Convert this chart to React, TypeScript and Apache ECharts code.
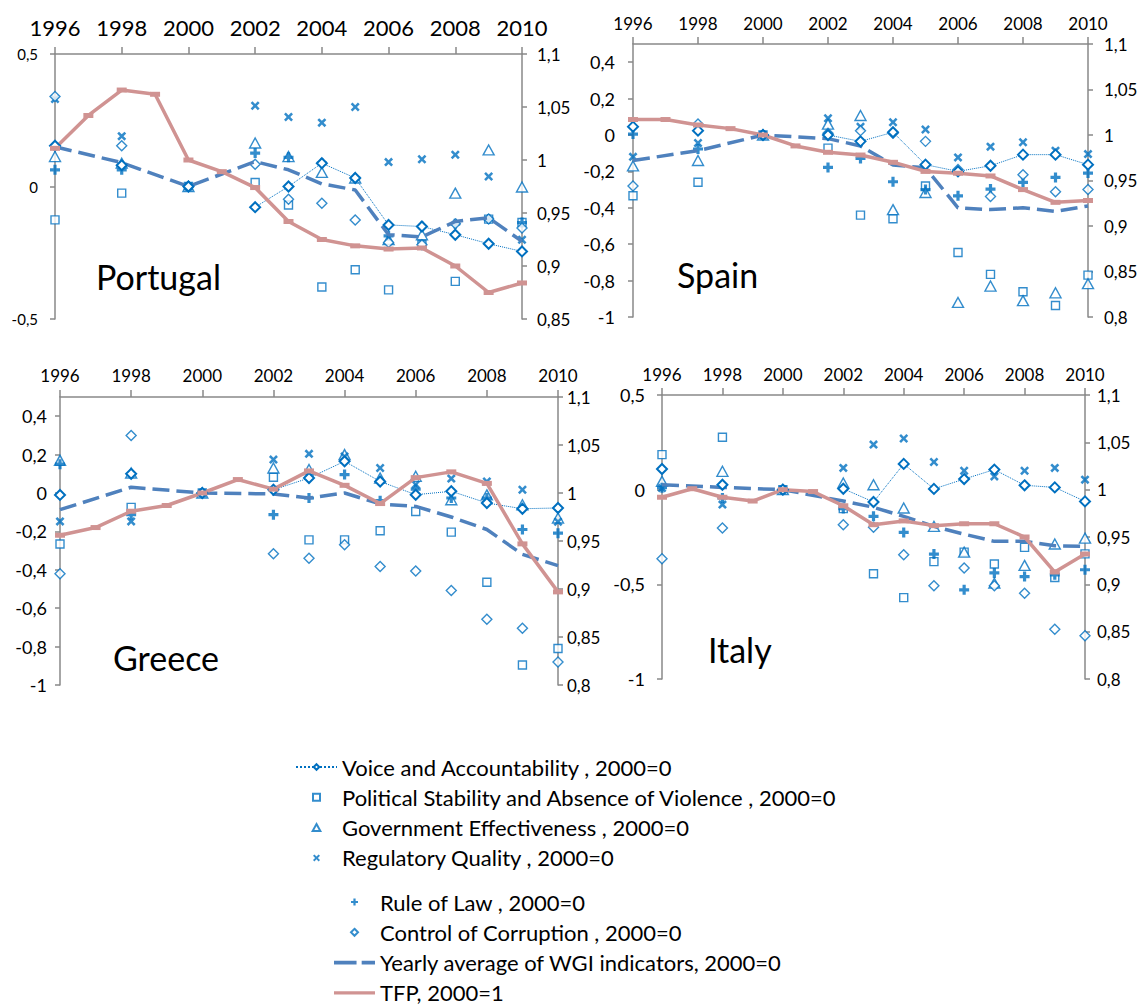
import React, { useEffect, useRef } from 'react';
import * as echarts from 'echarts';

// ---------- DATA ----------
const WGI_YEARS = [1996, 1998, 2000, 2002, 2003, 2004, 2005, 2006, 2007, 2008, 2009, 2010];
const TFP_YEARS = [1996, 1997, 1998, 1999, 2000, 2001, 2002, 2003, 2004, 2005, 2006, 2007, 2008, 2009, 2010];
const X_MIN = 1996;
const X_MAX = 2010;
const X_STEP = 2;

// Portugal
const PT_VA = [0.154, 0.08, 0, -0.078, 0.0, 0.088, 0.032, -0.145, -0.151, -0.182, -0.216, -0.245];
const PT_PS = [-0.126, -0.025, 0, 0.015, -0.07, -0.379, -0.314, -0.39, -0.22, -0.358, -0.123, -0.136];
const PT_GE = [0.113, 0.088, 0, 0.164, 0.113, 0.053, 0.032, -0.2, -0.182, -0.025, 0.138, -0.002];
const PT_RQ = [0.33, 0.19, 0, 0.305, 0.262, 0.241, 0.3, 0.092, 0.103, 0.12, 0.038, -0.201];
const PT_RL = [0.063, 0.063, 0, 0.126, 0.11, 0.088, 0.032, -0.186, -0.151, -0.141, -0.123, -0.136];
const PT_CC = [0.34, 0.154, 0, 0.084, -0.048, -0.063, -0.126, -0.211, -0.22, -0.141, -0.123, -0.157];
const PT_AVG = [0.15, 0.09, 0, 0.094, 0.063, 0.01, -0.013, -0.182, -0.19, -0.132, -0.118, -0.207];
const PT_TFP = [1.011, 1.042, 1.066, 1.062, 1.0, 0.989, 0.974, 0.942, 0.925, 0.919, 0.916, 0.917, 0.9, 0.875, 0.884];

// Spain
const ES_VA = [0.046, 0.024, 0, 0.0, -0.035, 0.015, -0.163, -0.2, -0.169, -0.108, -0.108, -0.163];
const ES_PS = [-0.334, -0.26, 0, -0.072, -0.44, -0.46, -0.28, -0.646, -0.766, -0.861, -0.937, -0.77];
const ES_GE = [-0.17, -0.14, 0, 0.06, 0.107, -0.41, -0.316, -0.92, -0.83, -0.91, -0.867, -0.817];
const ES_RQ = [-0.12, -0.044, 0, 0.092, 0.045, 0.07, 0.03, -0.123, -0.064, -0.04, -0.086, -0.105];
const ES_RL = [0.005, -0.077, 0, -0.178, -0.129, -0.257, -0.3, -0.334, -0.297, -0.26, -0.233, -0.209];
const ES_CC = [-0.28, 0.06, 0, 0.01, 0.024, 0.01, -0.035, -0.19, -0.338, -0.219, -0.312, -0.3];
const ES_AVG = [-0.14, -0.086, 0, -0.02, -0.06, -0.165, -0.18, -0.4, -0.41, -0.4, -0.42, -0.39];
const ES_TFP = [1.017, 1.017, 1.011, 1.007, 1.0, 0.988, 0.981, 0.978, 0.97, 0.96, 0.958, 0.955, 0.94, 0.926, 0.928];

// Greece
const GR_VA = [-0.01, 0.1, 0, 0.017, 0.078, 0.165, 0.06, -0.009, 0.009, -0.052, -0.082, -0.078];
const GR_PS = [-0.266, -0.075, 0, 0.082, -0.244, -0.244, -0.197, -0.096, -0.204, -0.465, -0.896, -0.81];
const GR_GE = [0.17, 0.104, 0, 0.13, 0.122, 0.2, 0.078, 0.087, -0.035, -0.01, -0.061, -0.13];
const GR_RQ = [-0.148, -0.148, 0, 0.174, 0.204, 0.19, 0.13, 0.044, 0.075, 0.06, 0.017, -0.15];
const GR_RL = [0.15, -0.113, 0, -0.113, -0.026, 0.096, -0.04, 0.02, -0.026, -0.026, -0.19, -0.209];
const GR_CC = [-0.42, 0.3, 0, -0.317, -0.34, -0.27, -0.383, -0.406, -0.508, -0.658, -0.705, -0.88];
const GR_AVG = [-0.087, 0.03, 0, -0.005, -0.026, 0.0, -0.057, -0.07, -0.125, -0.19, -0.32, -0.378];
const GR_TFP = [0.956, 0.964, 0.981, 0.987, 1.0, 1.014, 1.004, 1.023, 1.008, 0.989, 1.016, 1.022, 1.01, 0.947, 0.897];

// Italy
const IT_VA = [0.109, 0.026, 0, 0.005, -0.065, 0.136, 0.004, 0.056, 0.106, 0.023, 0.012, -0.062];
const IT_PS = [0.185, 0.277, 0, -0.1, -0.444, -0.57, -0.38, -0.33, -0.393, -0.305, -0.464, -0.339];
const IT_GE = [0.044, 0.097, 0, 0.035, 0.026, -0.097, -0.194, -0.33, -0.494, -0.4, -0.287, -0.256];
const IT_RQ = [0.009, -0.079, 0, 0.115, 0.238, 0.27, 0.146, 0.1, 0.07, 0.1, 0.115, 0.053];
const IT_RL = [0.01, -0.044, 0, -0.1, -0.141, -0.226, -0.34, -0.529, -0.44, -0.459, -0.45, -0.423];
const IT_CC = [-0.365, -0.203, 0, -0.185, -0.198, -0.344, -0.508, -0.414, -0.508, -0.547, -0.737, -0.771];
const IT_AVG = [0.026, 0.012, 0, -0.06, -0.093, -0.141, -0.194, -0.235, -0.273, -0.273, -0.296, -0.3];
const IT_TFP = [0.992, 1.001, 0.992, 0.988, 1.0, 0.998, 0.983, 0.963, 0.967, 0.962, 0.964, 0.964, 0.95, 0.913, 0.932];

const NAMES = {
  va: 'Voice and Accountability , 2000=0',
  ps: 'Political Stability and Absence of Violence , 2000=0',
  ge: 'Government Effectiveness , 2000=0',
  rq: 'Regulatory Quality , 2000=0',
  rl: 'Rule of Law , 2000=0',
  cc: 'Control of Corruption , 2000=0',
  avg: 'Yearly average of WGI indicators, 2000=0',
  tfp: 'TFP, 2000=1',
};

// ---------- STYLE / LAYOUT ----------
const FONT = 'Lato, "DejaVu Sans", sans-serif';
const BLUE = '#0070C0';
const AVG_COLOR = '#4F81BD';
const TFP_COLOR = '#D09392';
const AXIS_COLOR = '#898989';

const X_PATH = 'path://M0,2 L2,0 L5,3 L8,0 L10,2 L7,5 L10,8 L8,10 L5,7 L2,10 L0,8 L3,5 Z';
const PLUS_PATH = 'path://M3.4,0 H6.6 V3.4 H10 V6.6 H6.6 V10 H3.4 V6.6 H0 V3.4 H3.4 Z';
const SQUARE_PATH = 'path://M0,0 H8 V8 H0 Z';
const TRI_PATH = 'path://M5.5,0 L11,10 L0,10 Z';
const DIAM_PATH = 'path://M5,0 L10,5 L5,10 L0,5 Z';
const AVG_ICON = 'path://M0,0 H22 V3.5 H0 Z M27,0 H40 V3.5 H27 Z';
const TFP_ICON = 'path://M0,0 H43 V3.5 H0 Z';

const PANELS = [
  {
    name: 'Portugal', label: { x: 96, y: 276 },
    d: { va: PT_VA, ps: PT_PS, ge: PT_GE, rq: PT_RQ, rl: PT_RL, cc: PT_CC, avg: PT_AVG, tfp: PT_TFP },
    grid: { left: 55, top: 54, width: 467, height: 265 },
    yMin: -0.5, yMax: 0.5, yInt: 0.5, rMin: 0.85,
    xFont: 22, xMargin: 16, lFont: 15, lMargin: 17, rFont: 17, rMargin: 15,
  },
  {
    name: 'Spain', label: { x: 677, y: 274 },
    d: { va: ES_VA, ps: ES_PS, ge: ES_GE, rq: ES_RQ, rl: ES_RL, cc: ES_CC, avg: ES_AVG, tfp: ES_TFP },
    grid: { left: 633, top: 44, width: 455, height: 273 },
    yMin: -1, yMax: 0.5, yInt: 0.2, rMin: 0.8,
    xFont: 17, xMargin: 12, lFont: 18, lMargin: 18, rFont: 17, rMargin: 16,
  },
  {
    name: 'Greece', label: { x: 113, y: 657 },
    d: { va: GR_VA, ps: GR_PS, ge: GR_GE, rq: GR_RQ, rl: GR_RL, cc: GR_CC, avg: GR_AVG, tfp: GR_TFP },
    grid: { left: 60, top: 397, width: 498, height: 288 },
    yMin: -1, yMax: 0.5, yInt: 0.2, rMin: 0.8,
    xFont: 17, xMargin: 13, lFont: 18, lMargin: 13, rFont: 17, rMargin: 9,
  },
  {
    name: 'Italy', label: { x: 708, y: 649 },
    d: { va: IT_VA, ps: IT_PS, ge: IT_GE, rq: IT_RQ, rl: IT_RL, cc: IT_CC, avg: IT_AVG, tfp: IT_TFP },
    grid: { left: 662, top: 395, width: 423, height: 284 },
    yMin: -1, yMax: 0.5, yInt: 0.5, rMin: 0.8,
    xFont: 17, xMargin: 12, lFont: 18, lMargin: 17, rFont: 17, rMargin: 12,
  },
];

const fmt = (v: number) => String(Math.round(v * 100) / 100).replace('.', ',');

const pairs = (xs: number[], ys: number[]) => xs.map((x, i) => [x, ys[i]]);
const withBreaks = (xs: number[], ys: number[]) => {
  const out: any[] = [];
  xs.forEach((x, i) => {
    if (i > 0 && x - xs[i - 1] > 1) out.push([(x + xs[i - 1]) / 2, '-']);
    out.push([x, ys[i]]);
  });
  return out;
};

function buildOption() {
  const axisLine = { show: true, onZero: false, lineStyle: { color: AXIS_COLOR, width: 1.5 } };
  const axisTick = { show: true, length: 5, lineStyle: { color: AXIS_COLOR, width: 1.5 } };
  const grid: any[] = [];
  const xAxis: any[] = [];
  const yAxis: any[] = [];
  const series: any[] = [];
  const graphic: any[] = [];

  PANELS.forEach((p, i) => {
    grid.push({ ...p.grid, containLabel: false });
    xAxis.push({
      type: 'value', gridIndex: i, position: 'top', min: X_MIN, max: X_MAX, interval: X_STEP,
      axisLine, axisTick: { ...axisTick, length: 7 }, splitLine: { show: false },
      axisLabel: {
        formatter: (v: number) => String(v), fontSize: p.xFont, margin: p.xMargin, color: '#000', fontFamily: FONT,
        align: 'center', alignMinLabel: 'center', alignMaxLabel: 'center', hideOverlap: false,
      },
    });
    const exact = Math.abs(Math.round((p.yMax - p.yMin) / p.yInt) - (p.yMax - p.yMin) / p.yInt) < 1e-6;
    yAxis.push({
      type: 'value', gridIndex: i, position: 'left', min: p.yMin, max: p.yMax, interval: p.yInt,
      axisLine, axisTick, splitLine: { show: false },
      axisLabel: { formatter: fmt, fontSize: p.lFont, margin: p.lMargin, color: '#000', fontFamily: FONT, showMaxLabel: exact },
    });
    yAxis.push({
      type: 'value', gridIndex: i, position: 'right', min: p.rMin, max: 1.1, interval: 0.05,
      axisLine, axisTick, splitLine: { show: false },
      axisLabel: { formatter: fmt, fontSize: p.rFont, margin: p.rMargin, color: '#000', fontFamily: FONT },
    });
    const L = 2 * i;
    const R = 2 * i + 1;
    const hollow = { color: '#fff', borderColor: BLUE, borderWidth: 1.4 };
    series.push({
      name: NAMES.va, type: 'line', xAxisIndex: i, yAxisIndex: L, data: withBreaks(WGI_YEARS, p.d.va),
      symbol: 'emptyDiamond', symbolSize: 10, showAllSymbol: true,
      itemStyle: { color: BLUE, borderWidth: 1.4 }, lineStyle: { color: BLUE, width: 1, type: 'dotted' },
    });
    series.push({
      name: NAMES.ps, type: 'scatter', xAxisIndex: i, yAxisIndex: L, data: pairs(WGI_YEARS, p.d.ps),
      symbol: SQUARE_PATH, symbolSize: 8, itemStyle: hollow,
    });
    series.push({
      name: NAMES.ge, type: 'scatter', xAxisIndex: i, yAxisIndex: L, data: pairs(WGI_YEARS, p.d.ge),
      symbol: TRI_PATH, symbolSize: [11, 10], itemStyle: hollow,
    });
    series.push({
      name: NAMES.rq, type: 'scatter', xAxisIndex: i, yAxisIndex: L, data: pairs(WGI_YEARS, p.d.rq),
      symbol: X_PATH, symbolSize: 9, itemStyle: { color: BLUE },
    });
    series.push({
      name: NAMES.rl, type: 'scatter', xAxisIndex: i, yAxisIndex: L, data: pairs(WGI_YEARS, p.d.rl),
      symbol: PLUS_PATH, symbolSize: 10, itemStyle: { color: BLUE },
    });
    series.push({
      name: NAMES.cc, type: 'scatter', xAxisIndex: i, yAxisIndex: L, data: pairs(WGI_YEARS, p.d.cc),
      symbol: DIAM_PATH, symbolSize: 10, itemStyle: hollow,
    });
    series.push({
      name: NAMES.avg, type: 'line', xAxisIndex: i, yAxisIndex: L, data: pairs(WGI_YEARS, p.d.avg),
      symbol: 'none', lineStyle: { color: AVG_COLOR, width: 3.5, type: [17, 7] }, itemStyle: { color: AVG_COLOR },
    });
    series.push({
      name: NAMES.tfp, type: 'line', xAxisIndex: i, yAxisIndex: R, data: pairs(TFP_YEARS, p.d.tfp),
      symbol: 'rect', symbolSize: [10, 5], showAllSymbol: true,
      lineStyle: { color: TFP_COLOR, width: 3.5 }, itemStyle: { color: TFP_COLOR },
    });
    graphic.push({
      type: 'text', x: p.label.x, y: p.label.y, silent: true,
      style: { text: p.name, fontSize: 34, fontFamily: FONT, fill: '#000', verticalAlign: 'middle' },
    });
  });

  const legendText = { fontFamily: FONT, fontSize: 22, color: '#000', lineHeight: 22 };
  const legendBase = {
    orient: 'vertical', itemWidth: 41, itemHeight: 7, itemGap: 8.3, padding: 0,
    selectedMode: false, textStyle: legendText, symbolKeepAspect: true,
  };
  return {
    animation: false,
    backgroundColor: '#fff',
    grid, xAxis, yAxis, series, graphic,
    legend: [
      { ...legendBase, left: 295, top: 756, data: [NAMES.va, NAMES.ps, NAMES.ge, NAMES.rq] },
      {
        ...legendBase, left: 334, top: 891,
        data: [NAMES.rl, NAMES.cc, { name: NAMES.avg, icon: AVG_ICON }, { name: NAMES.tfp, icon: TFP_ICON }],
      },
    ],
  };
}

export default function App() {
  const ref = useRef<HTMLDivElement>(null);
  useEffect(() => {
    if (!ref.current) return;
    const chart = echarts.init(ref.current, undefined, { renderer: 'svg' });
    chart.setOption(buildOption() as any);
    return () => chart.dispose();
  }, []);
  return (
    <div
      ref={ref}
      style={{ position: 'absolute', left: 0, top: 0, width: 1144, height: 1005, background: '#fff' }}
    />
  );
}
